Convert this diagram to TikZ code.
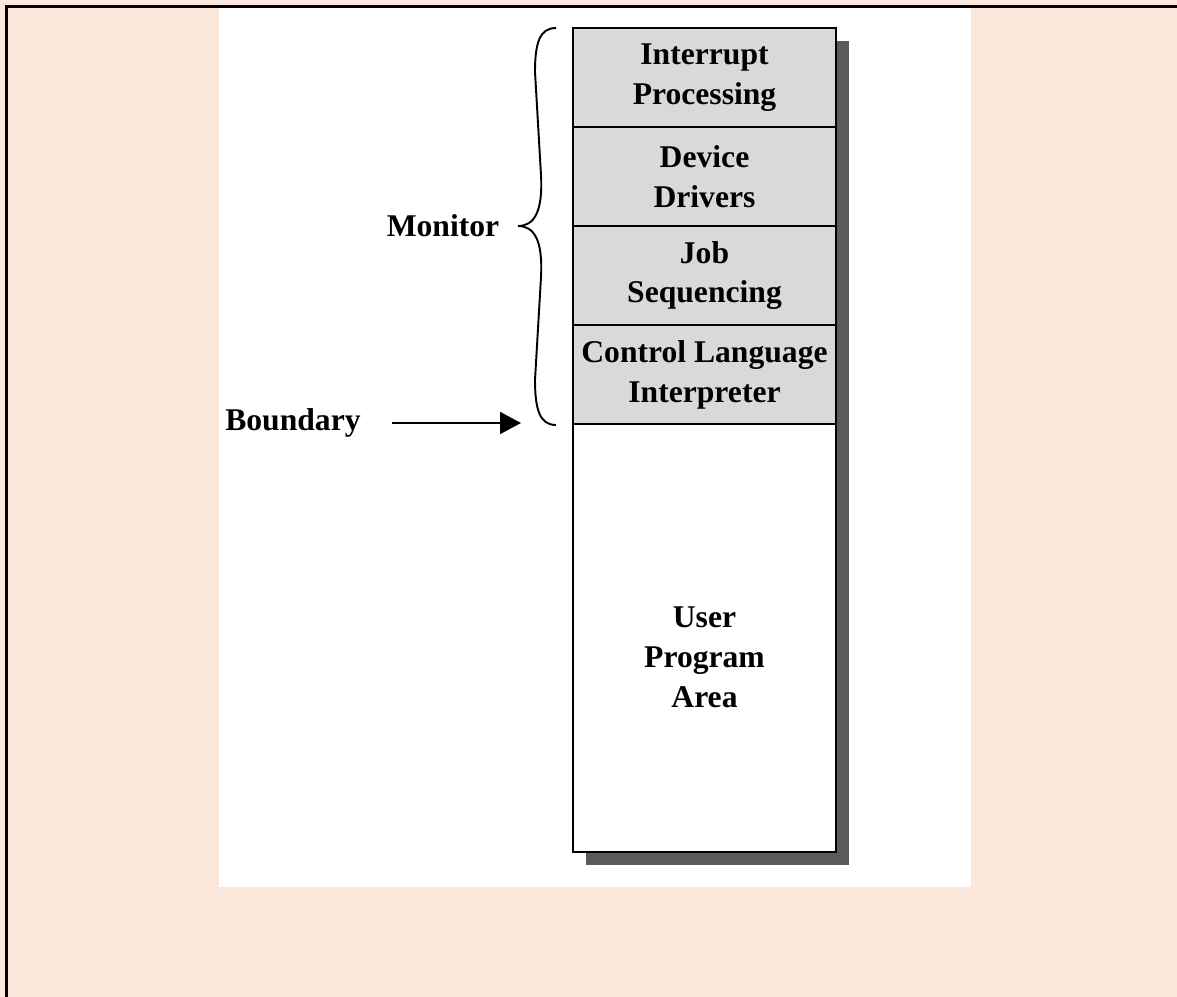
\documentclass[tikz,border=0pt]{standalone}
\usepackage{fontspec}
\setmainfont{Liberation Serif}
\usetikzlibrary{arrows.meta}
\definecolor{peach}{RGB}{251,232,218}
\definecolor{layergray}{RGB}{217,217,217}
\definecolor{shadowgray}{RGB}{90,90,90}

\begin{document}
\begin{tikzpicture}[x=0.02cm, y=-0.02cm,
    txt/.style={font=\fontsize{18}{22.7}\selectfont\bfseries, align=center},
    layer/.style={txt, draw, line width=1.6pt, fill=layergray,
      minimum width=5.26cm, minimum height=1.98cm, inner sep=0pt}]
    % page, frame and white panel
    \fill[peach] (0, 0) rectangle (1177, 997);
    \useasboundingbox (0, 0) rectangle (1177, 997);
    \fill[white] (219, 7) rectangle (971, 887);
    \draw[line width=1.5pt] (6.5, 997) -- (6.5, 6.5) -- (1177, 6.5);
    % drop shadow behind the memory stack
    \fill[shadowgray] (586, 41) rectangle (849, 865);
    % memory layers, top to bottom
    \node[layer] (intr) at (704.5, 77.5) {Interrupt\\Processing};
    \node[layer] (drv) at (704.5, 176.5) {Device\\Drivers};
    \node[layer] (jobseq) at (704.5, 275.5) {Job\\Sequencing};
    \node[layer] (cli) at (704.5, 374.5) {Control Language\\Interpreter};
    \node[layer, fill=white, minimum height=8.56cm] (user) at (704.5, 638) {};
    \node[txt] (usertxt) at (704.5, 657) {User\\Program\\Area};
    % monitor brace
    \draw[line width=1.1pt] (556, 28) .. controls (540, 28) and (535, 42) .. (535, 72)
      -- (541, 175) .. controls (543, 212) and (534, 226) .. (518, 226)
      .. controls (534, 226) and (543, 240) .. (541, 277)
      -- (535, 380) .. controls (535, 410) and (540, 425) .. (556, 425);
    \node[txt] (mon) at (443, 226) {Monitor};
    % boundary marker
    \node[txt] (bnd) at (293, 423) {Boundary};
    \coordinate (bndtip) at (521, 423);
    \draw[line width=1pt, -{Triangle[length=0.42cm, width=0.44cm]}]
      ([xshift=0.5cm]bnd.east) -- (bndtip);
\end{tikzpicture}
\end{document}
